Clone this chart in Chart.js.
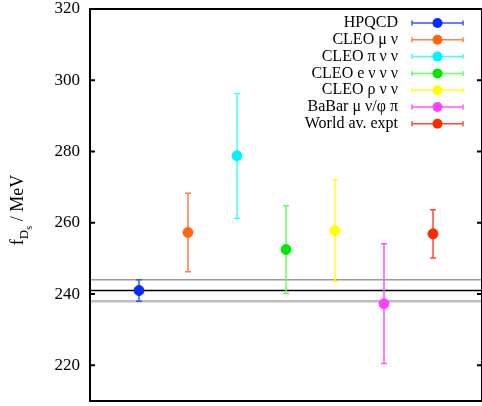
<!DOCTYPE html>
<html>
<head>
<meta charset="utf-8">
<script src="https://cdn.jsdelivr.net/npm/chart.js@4/dist/chart.umd.min.js"></script>
<style>
  html, body { margin: 0; padding: 0; background: #fff; }
  #wrap { width: 482px; height: 406px; }
</style>
</head>
<body>
<div id="wrap"><canvas id="chart"></canvas></div>
<script>
// measurements of f_Ds (MeV)
var labels = ["HPQCD", "CLEO \u03bc \u03bd", "CLEO \u03c0 \u03bd \u03bd", "CLEO e \u03bd \u03bd \u03bd",
              "CLEO \u03c1 \u03bd \u03bd", "BaBar \u03bc \u03bd/\u03c6 \u03c0", "World av. expt"];
var values = [241, 257.3, 278.8, 252.5, 257.8, 237.3, 256.9];
var errors = [3, 11, 17.5, 12.3, 14.3, 16.8, 6.8];
var markerColors = ["#0a2bff", "#ff6410", "#00f4ff", "#00e800", "#ffff00", "#ff40ff", "#ff2a00"];
var barColors = ["#3355ff", "#ff8040", "#40ffff", "#66ff66", "#ffff20", "#ff55ff", "#ff4a30"];
// HPQCD band: central value and +- error
var refLines = [241, 244, 238];
var refColors = ["#000000", "#999999", "#bbbbbb"];
var refWidths = [1.4, 1.5, 2.5];
var yTicks = [220, 240, 260, 280, 300, 320];

var serif = "Liberation Serif";
Chart.defaults.font.family = serif;

var datasets = labels.map(function (name, i) {
    return {
        label: name,
        data: [{ x: i + 1, y: values[i] }],
        backgroundColor: markerColors[i],
        borderColor: markerColors[i],
        pointRadius: 5,
        pointHoverRadius: 5
    };
});

var plotExtras = {
    id: "plotExtras",
    beforeDatasetsDraw: function (chart) {
        var ctx = chart.ctx, a = chart.chartArea;
        var xs = chart.scales.x, ys = chart.scales.y;
        ctx.save();
        // reference lines
        refLines.forEach(function (v, i) {
            var y = ys.getPixelForValue(v);
            ctx.strokeStyle = refColors[i];
            ctx.lineWidth = refWidths[i];
            ctx.beginPath();
            ctx.moveTo(a.left, y);
            ctx.lineTo(a.right, y);
            ctx.stroke();
        });
        // error bars
        values.forEach(function (v, i) {
            var x = xs.getPixelForValue(i + 1);
            var y1 = ys.getPixelForValue(v + errors[i]);
            var y2 = ys.getPixelForValue(v - errors[i]);
            ctx.strokeStyle = barColors[i];
            ctx.lineWidth = 1.5;
            ctx.beginPath();
            ctx.moveTo(x, y1); ctx.lineTo(x, y2);
            ctx.moveTo(x - 3, y1); ctx.lineTo(x + 3, y1);
            ctx.moveTo(x - 3, y2); ctx.lineTo(x + 3, y2);
            ctx.stroke();
        });
        ctx.restore();
    },
    afterDraw: function (chart) {
        var ctx = chart.ctx, a = chart.chartArea, ys = chart.scales.y;
        ctx.save();
        // frame
        ctx.strokeStyle = "#000";
        ctx.lineWidth = 2;
        ctx.strokeRect(a.left, a.top, a.right - a.left, a.bottom - a.top);
        // inward ticks on both sides
        yTicks.forEach(function (v) {
            var y = ys.getPixelForValue(v);
            ctx.beginPath();
            ctx.moveTo(a.left, y); ctx.lineTo(a.left + 5, y);
            ctx.moveTo(a.right, y); ctx.lineTo(a.right - 5, y);
            ctx.stroke();
        });

        // legend
        ctx.font = "16px " + serif;
        ctx.textAlign = "right";
        ctx.textBaseline = "middle";
        labels.forEach(function (name, i) {
            var y = 23 + i * 16.8;
            ctx.fillStyle = "#000";
            ctx.fillText(name, 398, y);
            ctx.strokeStyle = barColors[i];
            ctx.lineWidth = 1.5;
            ctx.beginPath();
            ctx.moveTo(412, y); ctx.lineTo(463, y);
            ctx.moveTo(412, y - 2.5); ctx.lineTo(412, y + 2.5);
            ctx.moveTo(463, y - 2.5); ctx.lineTo(463, y + 2.5);
            ctx.stroke();
            ctx.fillStyle = markerColors[i];
            ctx.beginPath();
            ctx.arc(437.5, y, 5, 0, Math.PI * 2);
            ctx.fill();
        });

        // y axis title: f_{D_s} / MeV
        ctx.translate(17, 210);
        ctx.rotate(-Math.PI / 2);
        ctx.fillStyle = "#000";
        ctx.textAlign = "left";
        ctx.textBaseline = "alphabetic";
        var parts = [
            { t: "f", size: 18, dy: 0 },
            { t: "D", size: 13, dy: 5 },
            { t: "s", size: 10, dy: 9 },
            { t: " / MeV", size: 18, dy: 0 }
        ];
        var total = 0;
        parts.forEach(function (p) {
            ctx.font = p.size + "px " + serif;
            total += ctx.measureText(p.t).width;
        });
        var x = -total / 2;
        parts.forEach(function (p) {
            ctx.font = p.size + "px " + serif;
            ctx.fillText(p.t, x, 6 + p.dy);
            x += ctx.measureText(p.t).width;
        });
        ctx.restore();
    }
};

new Chart(document.getElementById("chart").getContext("2d"), {
    type: "scatter",
    data: { datasets: datasets },
    options: {
        responsive: true,
        maintainAspectRatio: false,
        animation: false,
        layout: { autoPadding: false, padding: { top: 9, right: 0, bottom: 5, left: 0 } },
        scales: {
            x: {
                display: false,
                min: 0,
                max: 8
            },
            y: {
                min: 210,
                max: 320,
                grid: { display: false },
                border: { display: false },
                afterBuildTicks: function (axis) {
                    axis.ticks = yTicks.map(function (v) { return { value: v }; });
                },
                afterFit: function (axis) {
                    axis.width = 90;
                    axis.paddingTop = 0;
                    axis.paddingBottom = 0;
                },
                ticks: {
                    padding: 2,
                    font: { size: 17, family: serif },
                    color: "#000"
                }
            }
        },
        plugins: {
            legend: { display: false },
            tooltip: { enabled: false }
        }
    },
    plugins: [plotExtras]
});
</script>
</body>
</html>
